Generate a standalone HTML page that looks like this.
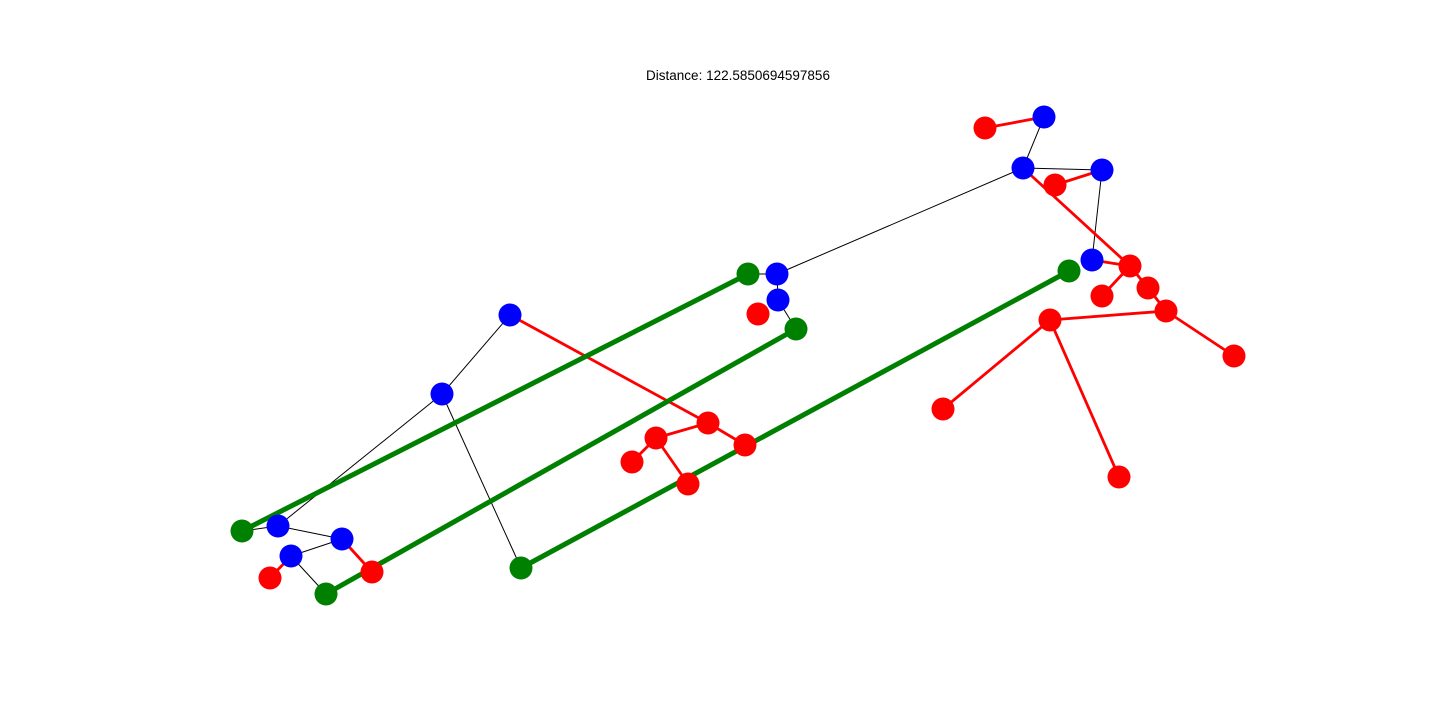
<!DOCTYPE html>
<html><head><meta charset="utf-8"><style>
body{margin:0;background:#fff;width:1440px;height:720px;overflow:hidden}
svg{display:block}
</style></head><body>
<svg id="g" width="1440" height="720">
<text x="738" y="80" text-anchor="middle" font-family="Liberation Sans, sans-serif" font-size="13.5">Distance: 122.5850694597856</text>
</svg>
<script>
const nodeX=[985,1044,1023,1102,1055,1092,1130,1102,1148,1166,1234,1050,943,1119,777,748,778,758,796,510,708,745,656,632,688,442,521,1069,242,278,342,291,270,326,372];
const nodeY=[128,117,168,170,185,260,266,296,288,311,356,320,409,477,274,274,300,314,329,315,423,445,438,462,484,394,568,271,531,526,539,556,578,594,572];
const nodeColor=['r','b','b','b','r','b','r','r','r','r','r','r','r','r','b','g','b','r','g','b','r','r','r','r','r','b','g','g','g','b','b','b','r','g','r'];
const edgeFrom=[0,1,2,3,3,2,5,6,6,8,9,9,11,11,2,15,14,16,19,20,20,22,22,19,25,25,26,28,28,29,30,31,31,30,33];
const edgeTo=  [1,2,3,4,5,6,6,7,8,9,10,11,12,13,14,14,16,18,20,21,22,23,24,25,29,26,27,15,29,30,31,33,32,34,18];
const edgeType=['r','k','k','r','k','r','r','r','r','r','r','r','r','r','k','k','k','k','r','r','r','r','r','k','k','k','g','g','k','k','k','k','r','r','g'];
const col={r:'#ff0000',b:'#0000ff',g:'#008000',k:'#000000'};
const wid={r:2.8,k:1,g:5};
const svg=document.getElementById('g');
const NS='http://www.w3.org/2000/svg';
for(let i=0;i<edgeFrom.length;i++){
  const l=document.createElementNS(NS,'line');
  l.setAttribute('x1',nodeX[edgeFrom[i]]);l.setAttribute('y1',nodeY[edgeFrom[i]]);
  l.setAttribute('x2',nodeX[edgeTo[i]]);l.setAttribute('y2',nodeY[edgeTo[i]]);
  l.setAttribute('stroke',col[edgeType[i]]);l.setAttribute('stroke-width',wid[edgeType[i]]);
  
  
  svg.appendChild(l);
}
for(let i=0;i<nodeX.length;i++){
  const c=document.createElementNS(NS,'circle');
  c.setAttribute('cx',nodeX[i]);c.setAttribute('cy',nodeY[i]);c.setAttribute('r',11.5);
  c.setAttribute('fill',col[nodeColor[i]]);
  
  
  svg.appendChild(c);
}
</script>
</body></html>
